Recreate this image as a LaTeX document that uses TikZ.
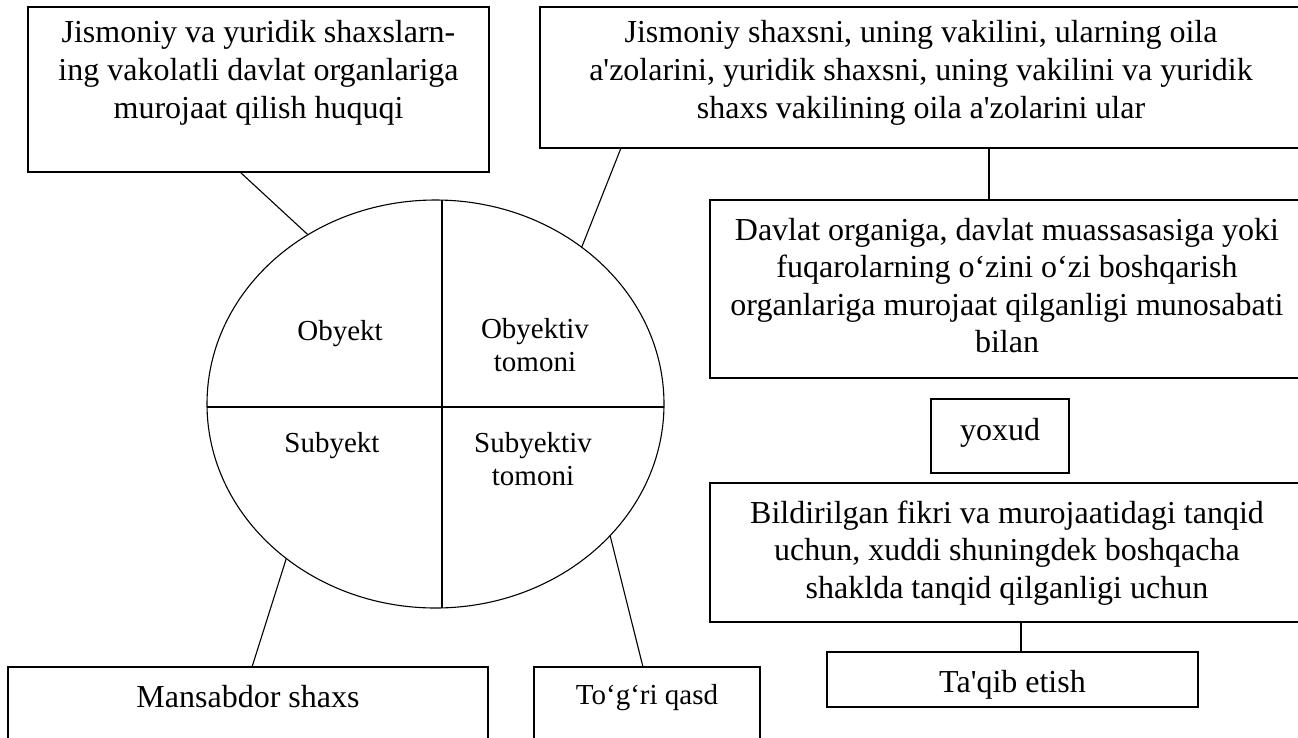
\documentclass[tikz,border=0pt]{standalone}
\usepackage{fontspec}
\newfontfamily\serif{Liberation Serif}
\usetikzlibrary{shapes.geometric,calc}
\newcommand{\bfnt}{\serif\fontsize{32}{38}\selectfont}
\newcommand{\bfntb}{\serif\fontsize{32}{37.5}\selectfont}
\newcommand{\sfnt}{\serif\fontsize{29}{33}\selectfont}
\newcommand{\bt}[4]{\begin{minipage}[t][#2][t]{#1}\centering\rule{0pt}{#3}#4\end{minipage}}
\tikzset{
  box/.style={draw, line width=1.2pt, inner sep=0pt, outer sep=0pt, anchor=north west, font=\bfnt},
  ln/.style={line width=1.1pt},
  lbl/.style={inner sep=0pt, anchor=base, font=\sfnt}
}
\begin{document}
\begin{tikzpicture}[x=1pt,y=-1pt]
\clip (0,0) rectangle (1298,737);
\fill[white] (0,0) rectangle (1298,737);
% boxes
\node[box] (b1) at (28,7) {\bt{461pt}{165pt}{35pt}{Jismoniy va yuridik shaxslarn-\\ing vakolatli davlat organlariga\\murojaat qilish huquqi}};
\node[box] (b2) at (540,7) {\bt{762pt}{141pt}{35pt}{Jismoniy shaxsni, uning vakilini, ularning oila\\a'zolarini, yuridik shaxsni, uning vakilini va yuridik\\shaxs vakilining oila a'zolarini ular}};
\node[box, font=\bfntb] (b3) at (710,200) {\bt{594pt}{178pt}{40pt}{Davlat organiga, davlat muassasasiga yoki\\fuqarolarning o‘zini o‘zi boshqarish\\organlariga murojaat qilganligi munosabati\\bilan}};
\node[box] (yx) at (931,399) {\bt{138pt}{74pt}{41pt}{yoxud}};
\node[box, font=\bfntb] (b5) at (710,483) {\bt{594pt}{139pt}{40pt}{Bildirilgan fikri va murojaatidagi tanqid\\uchun, xuddi shuningdek boshqacha\\shaklda tanqid qilganligi uchun}};
\node[box] (tq) at (827,652) {\bt{371pt}{55pt}{40pt}{Ta'qib etish}};
\node[box] (ms) at (8,667) {\bt{480pt}{120pt}{40pt}{Mansabdor shaxs}};
\node[box, font=\sfnt] (tg) at (534,667) {\bt{226pt}{120pt}{37pt}{To‘g‘ri qasd}};
% ellipse
\node[ellipse, draw, line width=1.1pt, minimum width=457pt, minimum height=408pt, inner sep=0pt, outer sep=0pt] (ell) at (435.5,404) {};
\draw[ln] ($(ell.north)+(6.5,0)$) -- ($(ell.south)+(6.5,0)$);
\draw[ln] ($(ell.west)+(0,3)$) -- ($(ell.east)+(0,3)$);
\node[lbl] (o1) at (340,340) {Obyekt};
\node[lbl] (o2) at (535,338) {\begin{tabular}[t]{@{}c@{}}Obyektiv\\tomoni\end{tabular}};
\node[lbl] (s1) at (332,452) {Subyekt};
\node[lbl] (s2) at (533,452) {\begin{tabular}[t]{@{}c@{}}Subyektiv\\tomoni\end{tabular}};
% connectors
\coordinate (c1) at ($(b1.south)+(-18.5,0)$);
\coordinate (c2) at ($(b2.south)+(-300,0)$);
\coordinate (c3) at ($(b2.south)+(68,0)$);
\coordinate (c4) at ($(b5.south)+(14,0)$);
\coordinate (c5) at ($(ms.north)+(4,0)$);
\coordinate (c6) at ($(tg.north)+(-4,0)$);
\draw[ln] (c1) -- (ell.127.6);
\draw[ln] (c2) -- (ell.47.4);
\draw[ln] (c3) -- (c3 |- b3.north);
\draw[ln] (c4) -- (c4 |- tq.north);
\draw[ln] (ell.226.5) -- (c5);
\draw[ln] (ell.323.9) -- (c6);
\end{tikzpicture}
\end{document}
